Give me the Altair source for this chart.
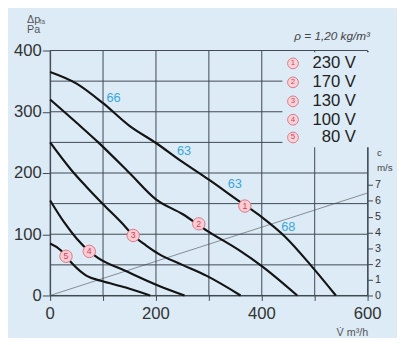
import altair as alt
import pandas as pd

# ---- data ----
V1 = [0, 50, 100, 150, 200, 250, 300, 357, 400, 444, 494, 540]
P1 = [365, 346, 314, 277, 249, 218, 189, 154, 128, 96, 48, 0]
V2 = [0, 50, 91, 150, 200, 250, 296, 357, 400, 467]
P2 = [320, 282, 250, 200, 157, 133, 106, 74, 48, 0]
V3 = [0, 40, 68, 100, 137, 157, 181, 205, 250, 296, 360]
P3 = [250, 205, 178, 149, 117, 98, 82, 68, 50, 32, 0]
V4 = [0, 26, 50, 74, 91, 143, 205, 254]
P4 = [155, 120, 93, 72, 61, 40, 16, 0]
V5 = [0, 20, 30, 44, 69, 96, 143, 189]
P5 = [85, 74, 64, 50, 32, 24, 13, 0]

# velocity line c (m/s)
VEL_V = [0, 600]
VEL_C = [0, 6.5]

# curve markers
MARK_ID = ["1", "2", "3", "4", "5"]
MARK_V = [368, 281, 157, 74, 30]
MARK_P = [146, 117, 98, 72, 64]

# sound level labels
SND_TXT = ["66", "63", "63", "68"]
SND_V = [120, 253, 349, 450]
SND_P = [322, 235, 182, 112]

# legend
LEG_ID = ["1", "2", "3", "4", "5"]
LEG_TXT = ["230 V", "170 V", "130 V", "100 V", "80 V"]
LEG_P = [379, 348, 317, 287, 258]

# grid positions and x tick labels
GRID_X = [0, 100, 200, 300, 400, 500, 600]
GRID_Y = [0, 50, 100, 150, 200, 250, 300, 350, 400]
XLAB = [0, 200, 400, 600]

BG = "#dcebf6"
GRID = "#3c4650"
FONT = "Liberation Sans"

rows = []
for name, vs, ps in [("1", V1, P1), ("2", V2, P2), ("3", V3, P3), ("4", V4, P4), ("5", V5, P5)]:
    for v, p in zip(vs, ps):
        rows.append({"curve": name, "V": v, "P": p})
curves_df = pd.DataFrame(rows)
vel_df = pd.DataFrame({"V": VEL_V, "c": VEL_C})
mark_df = pd.DataFrame({"id": MARK_ID, "V": MARK_V, "P": MARK_P})
snd_df = pd.DataFrame({"t": SND_TXT, "V": SND_V, "P": SND_P})
leg_df = pd.DataFrame({"id": LEG_ID, "t": LEG_TXT, "P": LEG_P})
gx_df = pd.DataFrame({"V": GRID_X})
gy_df = pd.DataFrame({"P": GRID_Y})
xl_df = pd.DataFrame({"V": XLAB, "t": [str(v) for v in XLAB]})

xscale = alt.Scale(domain=[0, 600], nice=False, zero=False)
yscale = alt.Scale(domain=[0, 400], nice=False, zero=False)

xaxis = alt.Axis(
    values=GRID_X, labels=False,
    grid=False,
    domainColor=GRID, tickColor=GRID, tickSize=5,
    title="V\u0307 m\u00b3/h", titleFont=FONT, titleFontSize=11, titleFontWeight="normal",
    titleColor="#555", titleX=308, titleY=38, titleAlign="center", titleBaseline="middle",
)
yaxis = alt.Axis(
    values=[0, 100, 200, 300, 400],
    labelOverlap=False,
    grid=False,
    domainColor=GRID, tickColor=GRID, tickSize=8,
    labelFontSize=17, labelColor="#333", labelPadding=1, labelFont=FONT,
    title=["\u0394p", "Pa"], titleFont=FONT, titleFontSize=11, titleFontWeight="normal",
    titleColor="#555", titleAngle=0, titleAlign="left", titleBaseline="top",
    titleX=-24, titleY=-38, titleLineHeight=11,
)
raxis = alt.Axis(
    orient="right", values=[0, 1, 2, 3, 4, 5, 6, 7], grid=False,
    labelOverlap=False,
    domainColor=GRID, tickColor=GRID, tickSize=5,
    labelFontSize=11, labelColor="#333", labelPadding=2, labelFont=FONT,
    title=["c", "m/s"], titleFont=FONT, titleFontSize=10, titleFontWeight="normal",
    titleColor="#444", titleAngle=0, titleAlign="left", titleBaseline="top",
    titleX=9, titleY=99, titleLineHeight=15,
)

vel = alt.Chart(vel_df).mark_line(color="#7a8088", strokeWidth=0.9).encode(
    x=alt.X("V:Q", scale=xscale, axis=xaxis),
    y=alt.Y("c:Q", scale=alt.Scale(domain=[0, 15.53], nice=False, zero=False), axis=raxis),
)

gridx = alt.Chart(gx_df).mark_rule(color=GRID, strokeWidth=1).encode(
    x=alt.X("V:Q", scale=xscale, axis=xaxis)
)
gridy = alt.Chart(gy_df).mark_rule(color=GRID, strokeWidth=1).encode(
    y=alt.Y("P:Q", scale=yscale, axis=yaxis)
)

xlabels = alt.Chart(xl_df).mark_text(fontSize=17, color="#333", font=FONT, baseline="middle").encode(
    x="V:Q", y=alt.value(269), text="t:N"
)

curves = alt.Chart(curves_df).mark_line(color="#141414", strokeWidth=2.2, interpolate="monotone").encode(
    x=alt.X("V:Q", scale=xscale, axis=xaxis),
    y=alt.Y("P:Q", scale=yscale, axis=yaxis),
    detail="curve:N",
)

legbox = alt.Chart(pd.DataFrame({"k": [0]})).mark_rect(fill=BG).encode(
    x=alt.datum(439), x2=alt.datum(606), y=alt.datum(242), y2=alt.datum(397)
)

markers = alt.Chart(mark_df).mark_point(
    shape="circle", filled=True, fill="#f8cdd3", stroke="#e07585", strokeWidth=1, size=160, opacity=1
).encode(x="V:Q", y="P:Q")
marker_txt = alt.Chart(mark_df).mark_text(fontSize=9, color="#d8405a", font=FONT).encode(
    x="V:Q", y="P:Q", text="id:N"
)

snd = alt.Chart(snd_df).mark_text(fontSize=13, color="#3aa6dc", font=FONT).encode(
    x="V:Q", y="P:Q", text="t:N"
)

leg_pts = alt.Chart(leg_df).mark_point(
    shape="circle", filled=True, fill="#f8d5da", stroke="#e07585", strokeWidth=1, size=120, opacity=1
).encode(x=alt.datum(459), y="P:Q")
leg_num = alt.Chart(leg_df).mark_text(fontSize=8, color="#d8405a", font=FONT).encode(
    x=alt.datum(459), y="P:Q", text="id:N"
)
leg_txt = alt.Chart(leg_df).mark_text(fontSize=17, color="#222", font=FONT, align="right").encode(
    x=alt.datum(578), y="P:Q", text="t:N"
)

rho = alt.Chart(pd.DataFrame({"t": ["\u03c1 = 1,20 kg/m\u00b3"]})).mark_text(
    fontSize=12, color="#444", font=FONT, fontStyle="italic"
).encode(x=alt.datum(533), y=alt.datum(424), text="t:N")

sub = alt.Chart(pd.DataFrame({"t": ["fa"]})).mark_text(
    fontSize=7, color="#666", font=FONT, align="left"
).encode(x=alt.value(-11), y=alt.value(-29), text="t:N")

toprule = alt.Chart(pd.DataFrame({"k": [0]})).mark_rule(color="#222", strokeWidth=1.2).encode(
    x=alt.value(-51), x2=alt.value(354), y=alt.value(-44)
)

pa_layers = alt.layer(gridx, gridy, curves, legbox, markers, marker_txt, snd,
                      leg_pts, leg_num, leg_txt, rho, sub, toprule, xlabels)

chart = alt.layer(vel, pa_layers).resolve_scale(y="independent").properties(
    width=324, height=250,
    autosize=alt.AutoSizeParams(type="none"),
    padding={"left": 43, "top": 40, "right": 30, "bottom": 40},
    background=BG,
).configure_view(stroke=None)

chart.save("out.html", embed_options={"renderer": "svg", "actions": False})
